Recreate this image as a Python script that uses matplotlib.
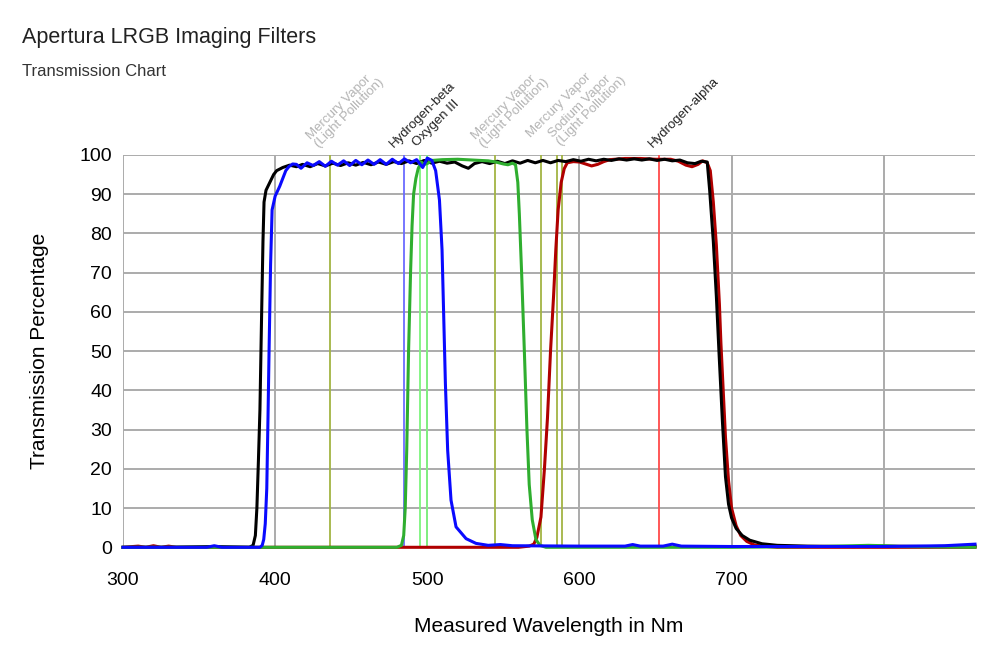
import matplotlib
matplotlib.use("Agg")
import matplotlib.pyplot as plt

plt.rcParams['font.family'] = ['Liberation Sans', 'DejaVu Sans']

# luminance (black)
l_wl = [300, 330, 360, 383, 385.5, 387, 388, 389, 390, 391, 392, 392.7, 394, 396.5, 399, 401, 405, 409.5,
        414, 418, 423, 428, 433, 438, 443, 448, 453, 458, 463, 468, 473, 478, 483, 488, 493, 498, 503,
        508, 513, 518, 523, 527, 531, 536, 541, 546, 551, 556, 561, 566, 571, 576, 581, 586, 591, 596,
        601, 606, 611, 616, 621, 626, 631, 636, 641, 646, 651, 656, 661, 666, 671, 676, 680, 684, 685.6,
        688, 690, 691.7, 694, 696, 698, 700, 703, 707, 712, 720, 730, 750, 780, 800, 830, 860]
l_val = [0, 0, 0.2, 0, 0.5, 3, 10, 22, 35, 57, 78, 88, 91, 93, 95, 96, 96.8, 97.4,
         97.0, 97.6, 97.0, 97.8, 97.2, 97.9, 97.3, 98.0, 97.4, 98.1, 97.5, 98.2, 97.6, 98.3, 97.8, 98.5,
         97.8, 98.6, 97.9, 98.4, 97.9, 98.2, 97.2, 96.6, 97.8, 98.3, 97.8, 98.4, 97.8, 98.5, 97.9, 98.6,
         98.0, 98.6, 98.0, 98.6, 98.3, 98.8, 98.4, 98.9, 98.5, 98.9, 98.6, 99.0, 98.7, 99.0, 98.7, 99.0,
         98.6, 98.9, 98.5, 98.7, 98.0, 97.8, 98.4, 98.2, 91, 78, 64, 50, 32, 18, 11, 7.5, 4.8, 3.0, 1.8,
         0.9, 0.5, 0.3, 0.2, 0.3, 0.2, 0.3]

# blue filter
b_wl = [300, 355, 360, 365, 390, 391.5, 392.5, 393.5, 394.5, 395.3, 396, 397, 398, 400, 403, 405, 407,
        409, 411.5, 414, 417, 421, 425, 429, 433, 437, 441, 445, 449, 453, 457, 461, 465, 469, 473, 477,
        481, 485, 489, 493, 497, 500, 503, 505.5, 508, 509.7, 510.8, 511.9, 513.4, 515.6, 518.9, 525.5,
        532, 540, 548, 556, 600, 630, 635, 640, 655, 661, 667, 700, 800, 840, 860]
b_val = [0, 0, 0.4, 0, 0, 0.5, 2, 6, 15, 33, 50, 72, 86, 89.5, 92, 94, 96, 97, 97.7, 97.6, 96.6, 98,
         97.3, 98.3, 97.1, 98.4, 97.4, 98.5, 97.3, 98.6, 97.5, 98.7, 97.6, 98.8, 97.6, 98.9, 97.8, 99.0,
         98.0, 98.8, 96.8, 99.2, 98.6, 96, 88.5, 75.8, 58.8, 41.8, 24.7, 12, 5.2, 2.2, 1.0, 0.5, 0.7,
         0.4, 0.3, 0.3, 0.7, 0.3, 0.3, 0.8, 0.3, 0.2, 0.2, 0.4, 0.8]

# green filter
g_wl = [300, 480, 483, 484.5, 485.5, 486.5, 487.7, 489, 490, 491, 492.5, 494, 496, 498, 500, 503, 510,
        520, 530, 540, 545, 550, 553, 556, 558, 559.5, 560.5, 562, 563.8, 565.5, 567, 569, 571.4, 574,
        578, 600, 700, 760, 790, 800, 810, 860]
g_val = [0, 0, 0.5, 3, 10, 25, 50, 70, 82, 90, 94, 96.5, 98.2, 97.6, 97.8, 98.6, 98.8, 98.9, 98.7,
         98.5, 98.2, 97.7, 97.5, 97.9, 97.5, 93, 85, 70, 50, 30, 16, 7, 2, 0.5, 0, 0, 0, 0.2, 0.5,
         0.4, 0.2, 0]

# red filter
r_wl = [300, 310, 315, 320, 325, 330, 335, 560, 567, 570, 572, 574.7, 577, 579, 581, 583, 584.5, 586,
        588, 590, 592, 596, 600, 604, 608, 612, 616, 620, 630, 640, 650, 660, 665, 670, 674, 678, 681,
        684, 686, 688, 690, 692, 693, 694, 696, 698, 700, 703, 706, 710, 715, 720, 730, 860]
r_val = [0, 0.3, 0, 0.4, 0, 0.3, 0, 0, 0.3, 0.8, 2.5, 7.7, 20, 33, 50, 64, 76, 86, 93, 96.5, 98, 98.3,
         98.2, 97.7, 97.2, 97.6, 98.3, 98.8, 99.1, 99.1, 98.9, 98.9, 98.4, 97.4, 97.0, 97.6, 98.5, 98.0,
         96, 88, 77, 62, 52, 44, 28, 17, 10, 5.5, 3, 1.5, 0.6, 0.3, 0, 0]

# emission / light pollution lines
line_wl = [435.8, 485, 495, 499.5, 544.5, 575, 585.5, 588.8, 652.5]
line_col = ['#a3b443', '#6b6bff', '#7df57d', '#7df57d', '#a3b443', '#a3b443', '#a3b443', '#a3b443', '#ff4a4a']

label_wl = [430, 479.4, 494.5, 538.6, 569.5, 589.3, 649.4]
label_y = [101.3, 101.3, 101.6, 101.3, 103.8, 101.8, 101.3]
label_txt = ['Mercury Vapor\n(Light Pollution)', 'Hydrogen-beta', 'Oxygen III',
             'Mercury Vapor\n(Light Pollution)', 'Mercury Vapor',
             'Sodium Vapor\n(Light Pollution)', 'Hydrogen-alpha']
label_col = ['#b4b4b4', '#222222', '#222222', '#b4b4b4', '#b4b4b4', '#b4b4b4', '#222222']

fig = plt.figure(figsize=(10, 6.65), dpi=100)
ax = fig.add_axes([0.123, 0.177, 0.852, 0.59])

for w, c in zip(line_wl, line_col):
    ax.axvline(w, color=c, lw=1.3, zorder=2)

ax.plot(r_wl, r_val, color='#b00000', lw=2.2, zorder=3, clip_on=False)
ax.plot(l_wl, l_val, color='black', lw=2.2, zorder=4, clip_on=False)
ax.plot(g_wl, g_val, color='#2fae2f', lw=2.2, zorder=5, clip_on=False)
ax.plot(b_wl, b_val, color='#0a0aff', lw=2.2, zorder=6, clip_on=False)

for w, y, t, c in zip(label_wl, label_y, label_txt, label_col):
    ax.text(w, y, t, rotation=45, rotation_mode='anchor', ha='left', va='bottom',
            fontsize=9.5, color=c, linespacing=0.95)

ax.set_xlim(300, 860)
ax.set_ylim(0, 100)
ax.set_xticks([300, 400, 500, 600, 700, 800])
ax.set_xticklabels(['300', '400', '500', '600', '700', ''])
ax.set_yticks(range(0, 101, 10))
ax.tick_params(length=0, labelsize=14)
ax.tick_params(axis='y', pad=8)
ax.tick_params(axis='x', pad=18)
ax.grid(True, color='#ababab', lw=1.4, zorder=1)
ax.set_axisbelow(True)
for s in ax.spines.values():
    s.set_visible(False)

ax.set_xlabel('Measured Wavelength in Nm', fontsize=15, labelpad=20)
ax.set_ylabel('Transmission Percentage', fontsize=15, labelpad=22)

fig.text(0.022, 0.935, 'Apertura LRGB Imaging Filters', fontsize=15.5, color='#222222')
fig.text(0.022, 0.886, 'Transmission Chart', fontsize=12, color='#333333')

fig.savefig('out.png', dpi=100)
